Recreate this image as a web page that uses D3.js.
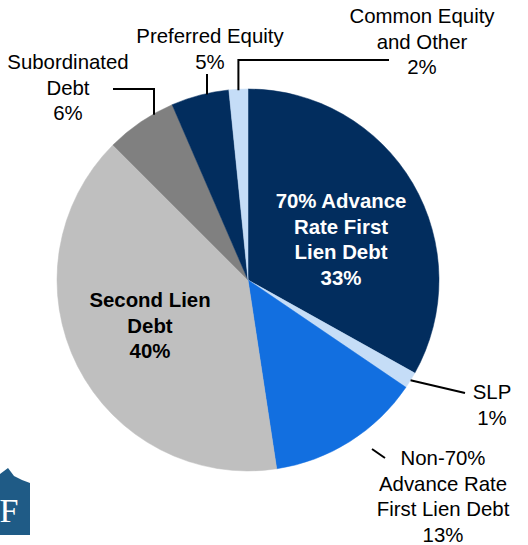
<!DOCTYPE html>
<html>
<head>
<meta charset="utf-8">
<script src="https://cdn.jsdelivr.net/npm/d3@7"></script>
<style>
  html, body { margin: 0; padding: 0; background: #fff; }
  svg { display: block; font-family: "Liberation Sans", Arial, sans-serif; }
</style>
</head>
<body>
<svg id="chart" width="528" height="545"></svg>
<script>
// Data (clockwise from 12 o'clock)
const categories = [
  "70% Advance Rate First Lien Debt",
  "SLP",
  "Non-70% Advance Rate First Lien Debt",
  "Second Lien Debt",
  "Subordinated Debt",
  "Preferred Equity",
  "Common Equity and Other"
];
const values = [33.1, 1.4, 13.1, 39.9, 6.0, 4.9, 1.6];
const labelLines = [
  ["70% Advance", "Rate First", "Lien Debt"],
  ["SLP"],
  ["Non-70%", "Advance Rate", "First Lien Debt"],
  ["Second Lien", "Debt"],
  ["Subordinated", "Debt"],
  ["Preferred Equity"],
  ["Common Equity", "and Other"]
];
const colors = ["#022d5e", "#c5ddf7", "#126fe0", "#bfbfbf", "#808080", "#022d5e", "#c5ddf7"];

const svg = d3.select("#chart");
const cx = 248, cy = 280, R = 191;
const g = svg.append("g").attr("transform", `translate(${cx},${cy})`);

const pie = d3.pie().value(d => d).sort(null);
const arcs = pie(values);
const arc = d3.arc().innerRadius(0).outerRadius(R);

g.selectAll("path.slice").data(arcs).enter().append("path")
  .attr("class", "slice")
  .attr("d", arc)
  .attr("fill", (d, i) => colors[i])
  .attr("stroke", (d, i) => colors[i])
  .attr("stroke-width", 0.5);

const pct = v => Math.round(v) + "%";

// Label layout (positions in page coordinates)
const fs = 20.4;
const lh = 25.5;
const labelPos = [
  {x: 341, y: 201, bold: true, color: "#fff"},
  {x: 492, y: 392, bold: false, color: "#000"},
  {x: 443, y: 458, bold: false, color: "#000"},
  {x: 150, y: 300, bold: true, color: "#000"},
  {x: 68,  y: 62,  bold: false, color: "#000"},
  {x: 210, y: 36,  bold: false, color: "#000"},
  {x: 422, y: 16,  bold: false, color: "#000"}
];

labelPos.forEach((p, i) => {
  const lines = labelLines[i].concat([pct(values[i])]);
  const t = svg.append("text")
    .attr("text-anchor", "middle")
    .attr("font-size", fs)
    .attr("font-weight", p.bold ? "bold" : "normal")
    .attr("fill", p.color);
  lines.forEach((ln, k) => {
    t.append("tspan")
      .attr("x", p.x)
      .attr("y", p.y + k * lh)
      .attr("dy", "0.35em")
      .text(ln);
  });
});

// Leader lines
const pt = (i, r) => {
  const a = arcs[i];
  const m = (a.startAngle + a.endAngle) / 2;
  return [cx + r * Math.sin(m), cy - r * Math.cos(m)];
};
const edgeY = x => cy - Math.sqrt(R * R - (x - cx) * (x - cx));
const leaders = svg.append("g").attr("fill", "none").attr("stroke", "#000").attr("stroke-width", 2);
// Common Equity
{
  const [x] = pt(6, R);
  leaders.append("polyline").attr("points", `${x},${edgeY(x) + 1} ${x},60 389,60`);
}
// Preferred Equity
{
  const x = 207;
  leaders.append("polyline").attr("points", `${x},${edgeY(x) + 1} ${x},74`);
}
// Subordinated
{
  const x = 154;
  leaders.append("polyline").attr("points", `${x},${edgeY(x) + 1} ${x},89 113,89`);
}
// SLP
{
  const [x, y] = pt(1, R);
  leaders.append("line").attr("x1", x).attr("y1", y).attr("x2", 465).attr("y2", 393);
}
// Non-70%
{
  leaders.append("line").attr("x1", 372).attr("y1", 449).attr("x2", 385).attr("y2", 458);
}

// Logo (partially visible house shape with F)
const logo = svg.append("g");
logo.append("path")
  .attr("d", "M0,474 L8,468 L14,476 L22,480 L30,483 L30,535 L0,535 Z")
  .attr("fill", "#1f5b86");
logo.append("text")
  .attr("x", 9).attr("y", 522)
  .attr("text-anchor", "middle")
  .attr("font-family", "'Liberation Serif', 'DejaVu Serif', serif")
  .attr("font-size", 34)
  .attr("fill", "#fff")
  .text("F");
</script>
</body>
</html>
